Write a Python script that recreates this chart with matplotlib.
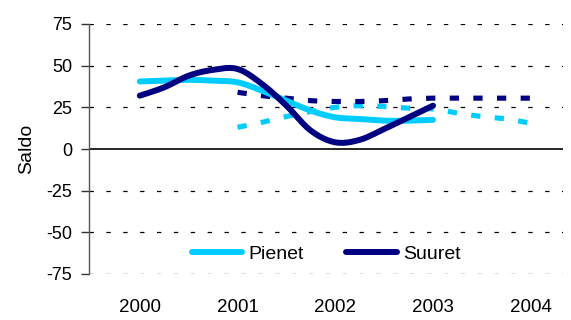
import numpy as np
import matplotlib
matplotlib.use("Agg")
import matplotlib.pyplot as plt
from matplotlib.lines import Line2D
from matplotlib import font_manager as fm

# ---- data ----
years = [2000, 2001, 2002, 2003, 2004]
hist_x = [2000.0, 2000.25, 2000.5, 2000.75, 2001.0, 2001.25, 2001.5, 2001.75,
          2002.0, 2002.25, 2002.5, 2002.75, 2003.0]
pienet = [40.5, 41, 41.5, 41, 40, 35, 29, 23, 19, 18, 17, 17, 17.5]
suuret = [32, 37, 44, 47.5, 48, 39, 26, 11, 4, 5.5, 12, 19, 26]
fc_x = [2001.0, 2001.25, 2001.5, 2001.75, 2002.0, 2002.25, 2002.5, 2002.75,
        2003.0, 2003.25, 2003.5, 2003.75, 2004.0]
pienet_fc = [13, 16, 19.5, 22.5, 25, 26, 25.5, 24.5, 24, 21.5, 19.5, 18, 15.5]
suuret_fc = [34, 32, 30.5, 29, 28.5, 28.5, 29, 30, 30.5, 30.5, 30.5, 30.5, 30.5]
yticks = [-75, -50, -25, 0, 25, 50, 75]

C_P = "#00CCFF"
C_S = "#000080"

avail = {f.name for f in fm.fontManager.ttflist}
fam = ["Liberation Sans Narrow", "Liberation Sans", "DejaVu Sans"]
fam = [f for f in fam if f in avail] or ["DejaVu Sans"]
plt.rcParams["font.family"] = fam


def smooth(x, y, n=12):
    x = np.asarray(x, float)
    y = np.asarray(y, float)
    P = np.column_stack([x, y])
    P = np.vstack([P[0] * 2 - P[1], P, P[-1] * 2 - P[-2]])
    out = []
    t = np.linspace(0, 1, n, endpoint=False)
    for i in range(1, len(P) - 2):
        p0, p1, p2, p3 = P[i - 1], P[i], P[i + 1], P[i + 2]
        tt = t[:, None]
        seg = 0.5 * ((2 * p1) + (-p0 + p2) * tt + (2 * p0 - 5 * p1 + 4 * p2 - p3) * tt ** 2
                     + (-p0 + 3 * p1 - 3 * p2 + p3) * tt ** 3)
        out.append(seg)
    out.append(P[-2][None, :])
    out = np.vstack(out)
    return out[:, 0], out[:, 1]


fig = plt.figure(figsize=(5.71, 3.2), dpi=100)
ax = fig.add_axes([89 / 571, 1 - 274 / 320, (563 - 89) / 571, 250 / 320])
ax.set_xlim(1999.48, 2004.33)
ax.set_ylim(-75, 75)

for v in yticks:
    if v == 0:
        ax.axhline(0, color="black", lw=1.2, zorder=1)
    else:
        ax.axhline(v, color="black", lw=0.9, ls=(0, (3.5, 10)), zorder=1)

lw = 4.3
flw = 3.7
xs, ys = smooth(fc_x, pienet_fc)
ax.plot(xs, ys, color=C_P, lw=flw, ls=(0, (1.8, 2.8)), solid_capstyle="butt", zorder=2)
xs, ys = smooth(fc_x, suuret_fc)
ax.plot(xs, ys, color=C_S, lw=flw, ls=(0, (1.8, 2.8)), solid_capstyle="butt", zorder=2)
xs, ys = smooth(hist_x, pienet)
ax.plot(xs, ys, color=C_P, lw=lw, solid_capstyle="round", zorder=3)
xs, ys = smooth(hist_x, suuret)
ax.plot(xs, ys, color=C_S, lw=lw, solid_capstyle="round", zorder=4)

for s in ["top", "right", "bottom"]:
    ax.spines[s].set_visible(False)
ax.spines["left"].set_color("#555555")
ax.spines["left"].set_linewidth(1.0)

ax.set_yticks(yticks)
ax.set_yticklabels([str(v) for v in yticks], fontsize=13)
ax.tick_params(axis="y", direction="out", length=6, width=1, color="#333333", pad=6)
ax.set_xticks(years)
ax.set_xticklabels([str(y) for y in years], fontsize=13.5)
ax.tick_params(axis="x", length=0, pad=18)

ax.set_ylabel("Saldo", fontsize=14, labelpad=8)

handles = [Line2D([], [], color=C_P, lw=lw, solid_capstyle="round"),
           Line2D([], [], color=C_S, lw=lw, solid_capstyle="round")]
ax.legend(handles, ["Pienet", "Suuret"], loc="center", bbox_to_anchor=(0.5, 0.08),
          ncol=2, frameon=False, fontsize=14, handlelength=2.6, handletextpad=0.3,
          columnspacing=2.2, borderpad=0)

fig.savefig("out.png", dpi=100)
